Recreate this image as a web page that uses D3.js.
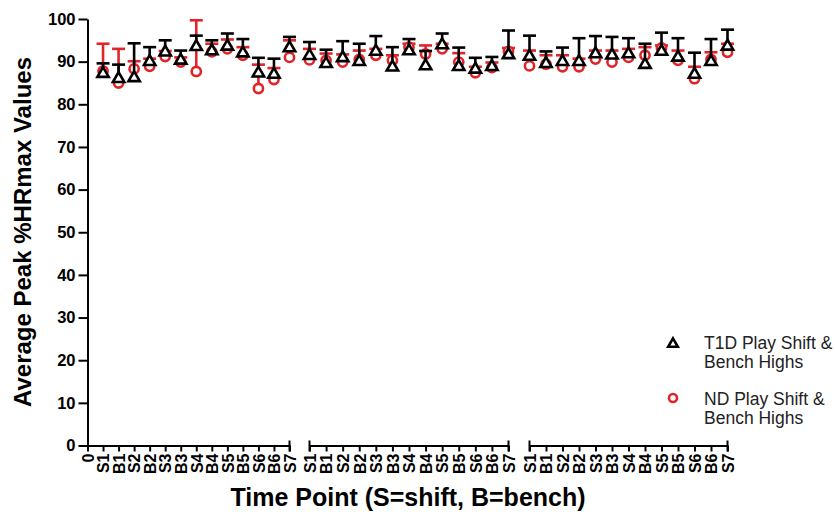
<!DOCTYPE html>
<html>
<head>
<meta charset="utf-8">
<script src="https://cdn.jsdelivr.net/npm/d3@7"></script>
<style>
  body { margin: 0; background: #fff; }
  text { font-family: "Liberation Sans", Arial, Helvetica, sans-serif; }
</style>
</head>
<body>
<svg id="chart" width="835" height="512"></svg>
<script>
// Tick values and category labels
const yTicks = [0, 10, 20, 30, 40, 50, 60, 70, 80, 90, 100];
const seg1Labels = ["0", "S1", "B1", "S2", "B2", "S3", "B3", "S4", "B4", "S5", "B5", "S6", "B6", "S7"];
const segLabels = ["S1", "B1", "S2", "B2", "S3", "B3", "S4", "B4", "S5", "B5", "S6", "B6", "S7"];

// Period 1 — mean and upper error (SD)
const t1dMean1 = [87.2, 86.0, 86.2, 90.0, 92.2, 90.3, 93.5, 92.5, 93.6, 92.0, 87.3, 87.0, 93.2];
const t1dErr1  = [2.4, 3.3, 8.1, 3.4, 2.8, 2.3, 2.6, 2.5, 3.0, 3.3, 3.6, 3.7, 2.6];
const ndMean1  = [87.8, 85.0, 88.3, 88.9, 91.2, 89.9, 87.7, 92.3, 93.0, 91.5, 83.7, 85.8, 91.0];
const ndErr1   = [6.4, 8.0, 1.8, 1.8, 1.3, 1.1, 12.0, 1.9, 2.2, 1.9, 5.6, 2.7, 4.0];

// Period 2
const t1dMean2 = [91.4, 89.5, 90.9, 90.0, 92.4, 88.7, 92.5, 89.0, 93.9, 88.8, 88.2, 88.8, 91.6];
const t1dErr2  = [3.2, 3.3, 3.9, 4.2, 3.6, 4.7, 2.8, 3.5, 2.7, 4.5, 2.7, 2.3, 5.7];
const ndMean2  = [90.4, 90.3, 89.9, 90.5, 91.5, 90.3, 93.4, 91.8, 93.0, 89.9, 87.4, 88.6, 92.4];
const ndErr2   = [2.6, 1.6, 1.8, 2.1, 1.5, 1.2, 0.8, 2.0, 1.2, 2.1, 1.4, 1.2, 0.8];

// Period 3
const t1dMean3 = [91.2, 89.5, 90.0, 90.0, 91.8, 91.5, 91.8, 89.3, 92.4, 91.0, 87.0, 90.0, 93.6];
const t1dErr3  = [4.9, 2.9, 3.3, 5.5, 4.2, 4.3, 3.7, 4.9, 4.4, 4.5, 5.1, 5.3, 3.9];
const ndMean3  = [89.0, 89.4, 88.8, 88.8, 90.6, 89.9, 91.0, 91.5, 93.2, 90.3, 86.0, 90.5, 92.2];
const ndErr3   = [3.6, 2.1, 2.7, 1.9, 2.0, 2.7, 2.0, 1.9, 0.6, 2.3, 2.8, 1.7, 2.0];

const seriesNames = ["T1D Play Shift &", "Bench Highs", "ND Play Shift &", "Bench Highs"];

const RED = "#e0242a";
const BLACK = "#000";

const svg = d3.select("#chart");
const y = d3.scaleLinear().domain([0, 100]).range([445.5, 19]);

// Three broken x-axis segments
const segments = [
  { labels: seg1Labels, range: [87.5, 289.5], t1d: t1dMean1, t1dE: t1dErr1, nd: ndMean1, ndE: ndErr1, capStart: false },
  { labels: segLabels, range: [309.5, 508.5], t1d: t1dMean2, t1dE: t1dErr2, nd: ndMean2, ndE: ndErr2, capStart: true },
  { labels: segLabels, range: [529.5, 727.5], t1d: t1dMean3, t1dE: t1dErr3, nd: ndMean3, ndE: ndErr3, capStart: true }
];

// Y axis
const yAxis = svg.append("g")
  .attr("transform", "translate(87.5,0)")
  .call(d3.axisLeft(y).tickValues(yTicks).tickSize(9).tickSizeOuter(0).tickPadding(3));
yAxis.select(".domain").attr("stroke", BLACK).attr("stroke-width", 2);
yAxis.selectAll(".tick line").attr("stroke", BLACK).attr("stroke-width", 2);
yAxis.selectAll(".tick text").attr("fill", BLACK)
  .style("font", "bold 16.5px 'Liberation Sans', Arial, sans-serif");

// X axis segments
segments.forEach(seg => {
  seg.x = d3.scalePoint().domain(d3.range(seg.labels.length)).range(seg.range).padding(0);
  const g = svg.append("g")
    .attr("transform", `translate(0,${y(0)})`)
    .call(d3.axisBottom(seg.x).tickSize(6).tickSizeOuter(0).tickFormat(i => seg.labels[i]));
  g.select(".domain").attr("stroke", BLACK).attr("stroke-width", 2);
  g.selectAll(".tick line").attr("stroke", BLACK).attr("stroke-width", 2);
  g.selectAll(".tick text")
    .attr("fill", BLACK)
    .style("font", "bold 16px 'Liberation Sans', Arial, sans-serif")
    .attr("x", -8).attr("y", 0).attr("dy", "0.36em")
    .attr("transform", "rotate(-90)")
    .style("text-anchor", "end");
  // end caps marking the axis breaks
  const ends = seg.capStart ? seg.range : [seg.range[1]];
  ends.forEach(px => {
    g.append("line").attr("x1", px).attr("x2", px).attr("y1", -5).attr("y2", 6)
      .attr("stroke", BLACK).attr("stroke-width", 2);
  });
});

// Mean markers with upper error bars
const capW = 6.5;
function drawSeries(seg, offset, means, errs, color, kind) {
  const g = svg.append("g");
  const pts = means.map((m, i) => ({ x: seg.x(i + offset), m, e: errs[i] }));
  g.selectAll("line.bar").data(pts).join("line")
    .attr("x1", d => d.x).attr("x2", d => d.x)
    .attr("y1", d => y(d.m)).attr("y2", d => y(d.m + d.e))
    .attr("stroke", color).attr("stroke-width", 2.6);
  g.selectAll("line.cap").data(pts).join("line")
    .attr("x1", d => d.x - capW).attr("x2", d => d.x + capW)
    .attr("y1", d => y(d.m + d.e)).attr("y2", d => y(d.m + d.e))
    .attr("stroke", color).attr("stroke-width", 2.6);
  if (kind === "circle") {
    g.selectAll("circle").data(pts).join("circle")
      .attr("cx", d => d.x).attr("cy", d => y(d.m)).attr("r", 4.6)
      .attr("fill", "#fff").attr("stroke", color).attr("stroke-width", 2.6);
  } else {
    const tri = d3.symbol().type(d3.symbolTriangle).size(56);
    g.selectAll("path").data(pts).join("path")
      .attr("d", tri)
      .attr("transform", d => `translate(${d.x},${y(d.m)})`)
      .attr("fill", "#fff").attr("stroke", color).attr("stroke-width", 2.6)
      .attr("stroke-linejoin", "miter");
  }
}

// the first segment starts at "0", which carries no data
segments.forEach((seg, k) => drawSeries(seg, k === 0 ? 1 : 0, seg.nd, seg.ndE, RED, "circle"));
segments.forEach((seg, k) => drawSeries(seg, k === 0 ? 1 : 0, seg.t1d, seg.t1dE, BLACK, "triangle"));

// Axis titles
svg.append("text")
  .attr("transform", "translate(31,232) rotate(-90)")
  .attr("text-anchor", "middle")
  .style("font", "bold 24px 'Liberation Sans', Arial, sans-serif")
  .attr("fill", BLACK)
  .text("Average Peak %HRmax Values");

svg.append("text")
  .attr("x", 408).attr("y", 506)
  .attr("text-anchor", "middle")
  .style("font", "bold 25px 'Liberation Sans', Arial, sans-serif")
  .attr("fill", BLACK)
  .text("Time Point (S=shift, B=bench)");

// Legend
const legend = svg.append("g");
legend.append("path")
  .attr("d", d3.symbol().type(d3.symbolTriangle).size(40)())
  .attr("transform", "translate(673,344)")
  .attr("fill", "#fff").attr("stroke", BLACK).attr("stroke-width", 2.6);
legend.append("circle")
  .attr("cx", 673).attr("cy", 398).attr("r", 4)
  .attr("fill", "#fff").attr("stroke", RED).attr("stroke-width", 2.6);
const legendLines = [
  { t: seriesNames[0], y: 349 },
  { t: seriesNames[1], y: 368 },
  { t: seriesNames[2], y: 405 },
  { t: seriesNames[3], y: 424 }
];
legend.selectAll("text").data(legendLines).join("text")
  .attr("x", 704).attr("y", d => d.y)
  .style("font", "17.5px 'Liberation Sans', Arial, sans-serif")
  .attr("fill", "#222")
  .text(d => d.t);
</script>
</body>
</html>
